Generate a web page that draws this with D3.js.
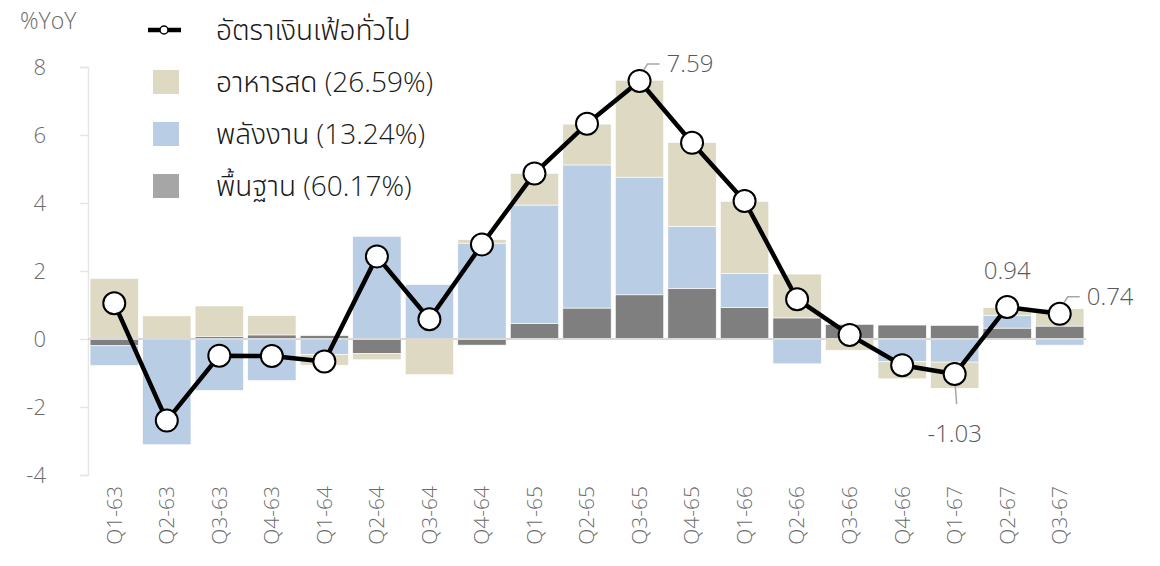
<!DOCTYPE html>
<html lang="th">
<head>
<meta charset="UTF-8">
<title>อัตราเงินเฟ้อทั่วไป</title>
<script src="https://d3js.org/d3.v7.min.js"></script>
<style>
  body { margin: 0; background: #fff; }
  svg { font-family: "Open Sans", "Noto Sans", "Noto Sans Thai", Tahoma, sans-serif; font-weight: 300; }
  .tick-label { font-size: 22px; fill: #6b6b6b; }
  .unit-label { font-size: 23px; fill: #6b6b6b; }
  .x-label { font-size: 21px; fill: #6b6b6b; }
  .legend-text { font-size: 28px; fill: #1a1a1a; }
  .note { font-size: 24px; fill: #595959; }
</style>
</head>
<body>
<svg id="chart" width="1160" height="566"></svg>
<script>
const quarters = ["Q1-63", "Q2-63", "Q3-63", "Q4-63", "Q1-64", "Q2-64", "Q3-64", "Q4-64",
  "Q1-65", "Q2-65", "Q3-65", "Q4-65", "Q1-66", "Q2-66", "Q3-66", "Q4-66", "Q1-67", "Q2-67", "Q3-67"];

// headline inflation (%YoY)
const headline = [1.05, -2.40, -0.49, -0.50, -0.66, 2.43, 0.58, 2.78, 4.87, 6.33, 7.59, 5.77, 4.06, 1.17, 0.12, -0.77, -1.03, 0.94, 0.74];
// contributions
const food   = [1.78, 0.68, 0.89, 0.57, -0.31, -0.18, -1.05, 0.10, 0.93, 1.20, 2.85, 2.47, 2.12, 1.29, -0.33, -0.50, -0.77, 0.22, 0.51];
const energy = [-0.58, -3.11, -1.51, -1.22, -0.46, 3.02, 1.60, 2.82, 3.49, 4.21, 3.46, 1.83, 1.00, -0.73, 0.00, -0.67, -0.68, 0.38, -0.18];
const core   = [-0.20, 0.00, 0.08, 0.12, 0.10, -0.43, 0.00, -0.18, 0.45, 0.91, 1.30, 1.48, 0.93, 0.62, 0.43, 0.41, 0.40, 0.32, 0.38];

const yTicks = [-4, -2, 0, 2, 4, 6, 8];
const legendLabels = ["อัตราเงินเฟ้อทั่วไป", "อาหารสด (26.59%)", "พลังงาน (13.24%)", "พื้นฐาน (60.17%)"];
const notes = [
  { q: "Q3-65", text: "7.59", kind: "right" },
  { q: "Q2-67", text: "0.94", kind: "above" },
  { q: "Q1-67", text: "-1.03", kind: "below" },
  { q: "Q3-67", text: "0.74", kind: "right" }
];

const colors = { core: "#7f7f7f", energy: "#b9cde5", food: "#ddd9c3" };

const svg = d3.select("#chart");

const x = d3.scaleBand().domain(quarters).range([88, 1086]).paddingInner(0.08).paddingOuter(0.04);
const y = d3.scaleLinear().domain([-4, 8]).range([475, 67]);

// y axis
const yAxis = svg.append("g").attr("transform", "translate(88,0)")
  .call(d3.axisLeft(y).tickValues(yTicks).tickSize(8).tickPadding(34).tickFormat(d => String(d)));
yAxis.attr("font-family", null).attr("font-size", null);
yAxis.select(".domain").attr("stroke", "#e6e6e6").attr("stroke-width", 1.5);
yAxis.selectAll(".tick line").attr("stroke", "#e6e6e6").attr("stroke-width", 1.5);
yAxis.selectAll(".tick text").attr("class", "tick-label").attr("fill", null);

svg.append("text").attr("class", "unit-label").attr("x", 20).attr("y", 29).text("%YoY");

// stacked bars
const rows = quarters.map((q, i) => ({ q, core: core[i], energy: energy[i], food: food[i] }));
const keys = ["core", "energy", "food"];
const series = d3.stack().keys(keys).offset(d3.stackOffsetDiverging)(rows);

svg.append("g").selectAll("g")
  .data(series).join("g")
  .attr("fill", d => colors[d.key])
  .selectAll("rect")
  .data(d => d).join("rect")
  .attr("x", d => x(d.data.q))
  .attr("width", x.bandwidth())
  .attr("y", d => y(Math.max(d[0], d[1])))
  .attr("height", d => Math.abs(y(d[0]) - y(d[1])))
  .attr("stroke", "#fff")
  .attr("stroke-width", 0.6);

// zero line
svg.append("line")
  .attr("x1", 88).attr("x2", 1086)
  .attr("y1", y(0)).attr("y2", y(0))
  .attr("stroke", "#d9d9d9").attr("stroke-width", 2);

// x labels
svg.append("g").selectAll("text")
  .data(quarters).join("text")
  .attr("class", "x-label")
  .attr("text-anchor", "end")
  .attr("transform", d => `translate(${x(d) + x.bandwidth() / 2},486) rotate(-90)`)
  .attr("dy", "0.35em")
  .text(d => d);

// headline line
const cx = (d, i) => x(quarters[i]) + x.bandwidth() / 2;
svg.append("path")
  .datum(headline)
  .attr("fill", "none")
  .attr("stroke", "#000")
  .attr("stroke-width", 4.5)
  .attr("stroke-linejoin", "round")
  .attr("d", d3.line().x(cx).y(d => y(d)));

// leader lines for notes
const lg = svg.append("g").attr("stroke", "#a6a6a6").attr("stroke-width", 1.5).attr("fill", "none");
notes.forEach(n => {
  const i = quarters.indexOf(n.q);
  const px = x(n.q) + x.bandwidth() / 2, py = y(headline[i]);
  if (n.kind === "right") {
    lg.append("path").attr("d", `M${px - 2},${py - 1} L${px + 8},${py - 17} L${px + 20},${py - 17}`);
  } else if (n.kind === "below") {
    lg.append("path").attr("d", `M${px},${py + 4} L${px + 2},${py + 30}`);
  }
});

svg.append("g").selectAll("circle")
  .data(headline).join("circle")
  .attr("cx", cx)
  .attr("cy", d => y(d))
  .attr("r", 11)
  .attr("fill", "#fff")
  .attr("stroke", "#000")
  .attr("stroke-width", 2);

// note labels
notes.forEach(n => {
  const i = quarters.indexOf(n.q);
  const px = x(n.q) + x.bandwidth() / 2, py = y(headline[i]);
  const t = svg.append("text").attr("class", "note").text(n.text);
  if (n.kind === "right") {
    t.attr("x", px + 27).attr("y", py - 17).attr("dy", "0.35em");
  } else if (n.kind === "above") {
    t.attr("x", px).attr("y", py - 36).attr("text-anchor", "middle").attr("dy", "0.35em");
  } else {
    t.attr("x", px).attr("y", py + 60).attr("text-anchor", "middle").attr("dy", "0.35em");
  }
});

// legend
const legend = svg.append("g");
legendLabels.forEach((label, i) => {
  const ly = 30 + i * 52;
  if (i === 0) {
    legend.append("line").attr("x1", 148).attr("x2", 181).attr("y1", ly).attr("y2", ly)
      .attr("stroke", "#000").attr("stroke-width", 4.5);
    legend.append("circle").attr("cx", 164).attr("cy", ly).attr("r", 4)
      .attr("fill", "#fff").attr("stroke", "#000").attr("stroke-width", 1.5);
  } else {
    const fill = [null, colors.food, colors.energy, "#a6a6a6"][i];
    legend.append("rect").attr("x", 153).attr("y", ly - 12).attr("width", 26).attr("height", 24).attr("fill", fill);
  }
  legend.append("text").attr("class", "legend-text").attr("x", 216).attr("y", ly).attr("dy", "0.35em").text(label);
});
</script>
</body>
</html>
